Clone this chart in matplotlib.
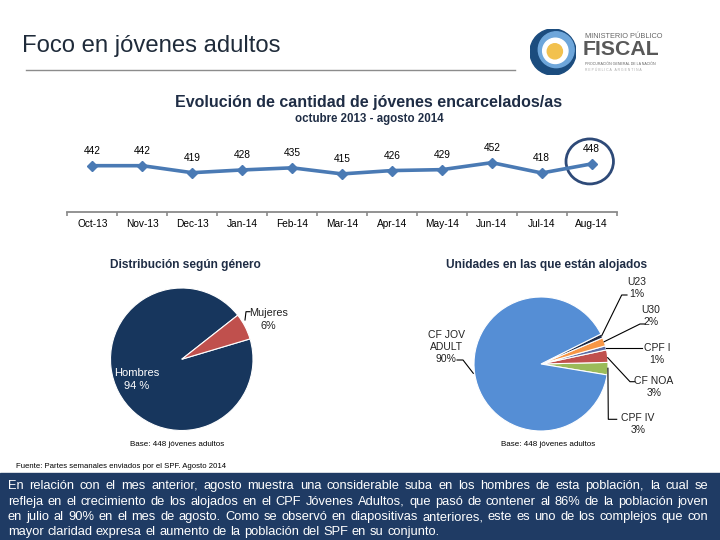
import matplotlib
matplotlib.use('Agg')
import matplotlib.pyplot as plt
from matplotlib.patches import Ellipse, Rectangle, Circle
from matplotlib.lines import Line2D
import numpy as np

# datos
meses = ['Oct-13', 'Nov-13', 'Dec-13', 'Jan-14', 'Feb-14', 'Mar-14',
         'Apr-14', 'May-14', 'Jun-14', 'Jul-14', 'Aug-14']
jovenes = [442, 442, 419, 428, 435, 415, 426, 429, 452, 418, 448]

genero = ['Hombres', 'Mujeres']
genero_pct = [94, 6]

unidades = ['CPF IV', 'CF NOA', 'CPF I', 'U30', 'U23', 'CF JOV\nADULT']
unidades_pct = [3, 3, 1, 2, 1, 90]

base = 448

parrafo = [
    "En relación con el mes anterior, agosto muestra una considerable suba en los hombres de esta población, la cual se",
    "refleja en el crecimiento de los alojados en el CPF Jóvenes Adultos, que pasó de contener al 86% de la población joven",
    "en julio al 90% en el mes de agosto. Como se observó en diapositivas anteriores, este es uno de los complejos que con",
    "mayor claridad expresa el aumento de la población del SPF en su conjunto.",
]

plt.rcParams['font.family'] = ['Liberation Sans', 'DejaVu Sans']

W, H = 720, 540
fig = plt.figure(figsize=(W / 100, H / 100), dpi=100)
fig.patch.set_facecolor('white')


def fx(x):
    return x / W


def fy(y):
    return 1 - y / H


def caja(x0, y0, x1, y1):
    return [x0 / W, 1 - y1 / H, (x1 - x0) / W, (y1 - y0) / H]


def linea(puntos, **kw):
    kw.setdefault('color', 'black')
    kw.setdefault('lw', 0.8)
    fig.add_artist(Line2D([fx(p[0]) for p in puntos], [fy(p[1]) for p in puntos], **kw))


azul_titulo = '#1f2d45'

# encabezado
fig.text(fx(22), fy(46), 'Foco en jóvenes adultos', fontsize=17.2, color='#1f2b3a', va='center')
linea([(26, 70), (515, 70)], color='#8c8c8c', lw=1)

# logo aproximado
axl = fig.add_axes(caja(530, 29, 576, 75))
axl.set_aspect('equal')
axl.set_xlim(-1, 1)
axl.set_ylim(-1, 1)
axl.axis('off')
axl.add_patch(Circle((0, 0), 1, color='#1b4c7e'))
axl.add_patch(Circle((0.14, 0.1), 0.78, color='#6ea6da'))
axl.add_patch(Circle((0.1, 0.05), 0.55, color='white'))
axl.add_patch(Circle((0.08, 0.03), 0.33, color='#f2c14e'))
fig.text(fx(585), fy(36), 'MINISTERIO PÚBLICO', fontsize=5.3, color='#666666', va='center')
fig.text(fx(583), fy(49.5), 'FISCAL', fontsize=15.3, weight='bold', color='#595959', va='center')
fig.text(fx(585), fy(64), 'PROCURACIÓN GENERAL DE LA NACIÓN', fontsize=2.6, color='#666666', va='center')
fig.text(fx(585), fy(70), 'R E P Ú B L I C A   A R G E N T I N A', fontsize=2.4, color='#aaaaaa', va='center')

# titulo del grafico
fig.text(fx(369), fy(102), 'Evolución de cantidad de jóvenes encarcelados/as', fontsize=11.5,
         weight='bold', color=azul_titulo, ha='center', va='center')
fig.text(fx(369), fy(119), 'octubre 2013 - agosto 2014', fontsize=8.3, weight='bold',
         color=azul_titulo, ha='center', va='center')

# serie mensual
ax = fig.add_axes(caja(67.3, 130, 616.7, 211.7))
ax.patch.set_alpha(0)
x = np.arange(len(meses))
ax.plot(x, jovenes, color='#4a7ab4', lw=2.6, marker='D', ms=5, solid_joinstyle='round')
for i, v in enumerate(jovenes):
    ax.annotate(str(v), (i, v), xytext=(0, 10.5), textcoords='offset points',
                ha='center', va='center', fontsize=7.3, color='black')
ax.add_patch(Ellipse((x[-1] - 0.04, jovenes[-1] + 8), 0.95, 148, fill=False,
                     edgecolor='#2e4a78', lw=2, clip_on=False))
ax.set_xlim(-0.5, len(meses) - 0.5)
ax.set_ylim(290.7, 559.4)
for s in ['top', 'left', 'right']:
    ax.spines[s].set_visible(False)
ax.spines['bottom'].set_color('#8a8a8a')
ax.spines['bottom'].set_linewidth(1.3)
ax.set_yticks([])
ax.set_xticks(x)
ax.set_xticklabels(meses, fontsize=7.3)
ax.set_xticks(np.arange(-0.5, len(meses), 1), minor=True)
ax.tick_params(axis='x', which='major', length=0, pad=5.5)
ax.tick_params(axis='x', which='minor', length=3, width=1.2, color='#8a8a8a', direction='out')

# torta genero
fig.text(fx(185), fy(265), 'Distribución según género', fontsize=8.6, weight='bold',
         color=azul_titulo, ha='center', va='center')
ax1 = fig.add_axes(caja(110.5, 288, 253, 430.5))
ax1.pie(genero_pct, colors=['#17365d', '#c0504d'], startangle=38.2, counterclock=True,
        wedgeprops=dict(edgecolor='white', linewidth=0.8))
ax1.set_xlim(-1, 1)
ax1.set_ylim(-1, 1)
fig.text(fx(136.7), fy(379.7), f'{genero[0]}\n{genero_pct[0]} %', fontsize=8, color='white',
         ha='center', va='center', linespacing=1.3)
fig.text(fx(268.5), fy(319.5), f'{genero[1]}\n{genero_pct[1]}%', fontsize=7.8, color='#222222',
         ha='center', va='center', linespacing=1.3)
linea([(245, 320), (246, 311.7), (250, 311.7)])
fig.text(fx(176.7), fy(445), f'Base: {base} jóvenes adultos', fontsize=5.8, ha='center', va='center')

# torta unidades
fig.text(fx(546.7), fy(265), 'Unidades en las que están alojados', fontsize=8.6, weight='bold',
         color=azul_titulo, ha='center', va='center')
ax2 = fig.add_axes(caja(474, 297, 608, 431))
ax2.pie(unidades_pct, colors=['#9bbb59', '#c0504d', '#5c6ea6', '#f79646', '#1f2a44', '#558ed5'],
        startangle=-9.4, counterclock=True, wedgeprops=dict(edgecolor='white', linewidth=0.8))
ax2.set_xlim(-1, 1)
ax2.set_ylim(-1, 1)

pos_etiquetas = [(638, 424), (654, 387), (657, 354), (651, 316.3), (637, 288.3), (446, 347.5)]
guias = [
    [(607.9, 368.2), (608.3, 419.3), (616.7, 419.3)],
    [(607.7, 357.7), (630, 381.7), (634.5, 381.7)],
    [(606, 347.8), (642, 347.8)],
    [(604.2, 341.7), (640, 324), (645, 324)],
    [(601.7, 335.7), (621.7, 295), (627, 295)],
    [(457, 360), (463, 360), (473.3, 373.3)],
]
for nombre, pct, pos, guia in zip(unidades, unidades_pct, pos_etiquetas, guias):
    fig.text(fx(pos[0]), fy(pos[1]), f'{nombre}\n{pct}%', fontsize=7.5, color='#222222',
             ha='center', va='center', linespacing=1.25)
    linea(guia)
fig.text(fx(548.3), fy(445), f'Base: {base} jóvenes adultos', fontsize=5.8, ha='center', va='center')

fig.text(fx(16), fy(466), 'Fuente: Partes semanales enviados por el SPF. Agosto 2014', fontsize=5.6,
         va='center')

# recuadro de texto justificado (palabra por palabra, linea base en pixel entero)
fig.add_artist(Rectangle((0, 0), 1, fy(472.5), transform=fig.transFigure, color='#1f3b64'))
renderer = fig.canvas.get_renderer()
x0, x1 = 8, 708
base_lineas = [489, 505, 520, 535]
tam = 9.3
for k, (texto, y) in enumerate(zip(parrafo, base_lineas)):
    palabras = texto.split()
    objs = [fig.text(0, fy(y), p, fontsize=tam, color='white', va='baseline') for p in palabras]
    anchos = [t.get_window_extent(renderer).width for t in objs]
    if k < len(parrafo) - 1:
        hueco = (x1 - x0 - sum(anchos)) / (len(palabras) - 1)
    else:
        hueco = 0.28 * tam * 100 / 72
    xx = x0
    for t, a in zip(objs, anchos):
        t.set_x(fx(xx))
        xx += a + hueco

fig.savefig('out.png', dpi=100)
